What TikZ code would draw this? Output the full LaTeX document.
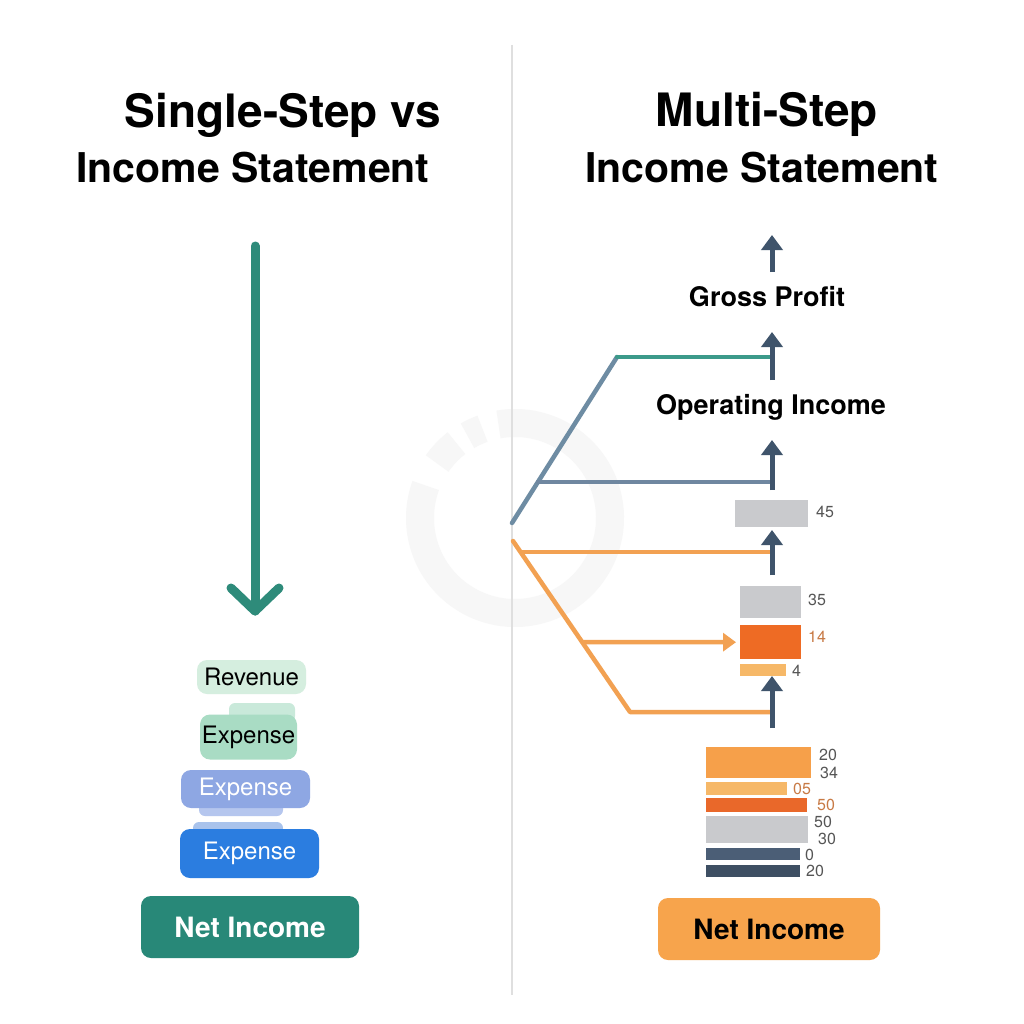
\documentclass[tikz,border=0pt]{standalone}
\usepackage{fontspec}
\setmainfont{TeX Gyre Heros}
\usetikzlibrary{arrows.meta}
\definecolor{tealA}{HTML}{2E8B7A}
\definecolor{revF}{HTML}{D5EEDF}
\definecolor{expAF}{HTML}{A9DCC4}
\definecolor{expAS}{HTML}{C9E9DA}
\definecolor{expBF}{HTML}{8EA7E3}
\definecolor{expBS}{HTML}{B5C6EE}
\definecolor{expCF}{HTML}{2B7DE0}
\definecolor{expCS}{HTML}{A9C3EC}
\definecolor{netL}{HTML}{288878}
\definecolor{netR}{HTML}{F7A44C}
\definecolor{slateA}{HTML}{3F546B}
\definecolor{tealL}{HTML}{3C9A8A}
\definecolor{slateD}{HTML}{6E8CA3}
\definecolor{slateH}{HTML}{6F87A0}
\definecolor{orL}{HTML}{F2A152}
\definecolor{grayB}{HTML}{C9CACD}
\definecolor{orB}{HTML}{EE6B24}
\definecolor{orLt}{HTML}{F6B868}
\definecolor{orM}{HTML}{F6A04A}
\definecolor{orD}{HTML}{E9682A}
\definecolor{slB1}{HTML}{4B5E76}
\definecolor{slB2}{HTML}{3E4F63}
\definecolor{numG}{HTML}{555555}
\definecolor{numO}{HTML}{C87A45}
\definecolor{wm}{HTML}{F7F7F7}
\tikzset{
  title/.style={font=\fontsize{41}{49}\selectfont\bfseries, text=black, inner sep=0pt},
  bigtitle/.style={font=\fontsize{46}{54}\selectfont\bfseries, text=black, inner sep=0pt},
  lbl/.style={font=\fontsize{27}{32}\selectfont\bfseries, text=black, inner sep=0pt},
  pill/.style={rounded corners=10pt, minimum height=#1, inner sep=0pt, font=\fontsize{24}{29}\selectfont},
  netbox/.style={rounded corners=10pt, inner sep=0pt, font=\fontsize{28}{33}\selectfont\bfseries},
  bar/.style={inner sep=0pt, anchor=north west},
  num/.style={font=\fontsize{16}{19}\selectfont, text=numG, inner sep=0pt, anchor=west},
  onum/.style={num, text=numO},
  uparrow/.style={draw=slateA, line width=5pt, -{Triangle[width=21pt,length=15pt]}},
  conn/.style={line width=4.5pt, line cap=round, line join=round},
}
\begin{document}
\begin{tikzpicture}[x=1pt,y=-1pt]
\useasboundingbox (0,0) rectangle (1024,1024);
\fill[white] (0,0) rectangle (1024,1024);
% watermark ring (y axis points down, so angles are negated)
\draw[wm, line width=28pt] (515,518) ++(-100:95) arc[start angle=-100, end angle=200, radius=95];
\draw[wm, line width=28pt] (515,518) ++(-110:95) arc[start angle=-110, end angle=-120, radius=95];
\draw[wm, line width=28pt] (515,518) ++(-128:95) arc[start angle=-128, end angle=-145, radius=95];
% divider
\coordinate (dtop) at (512,45);
\coordinate (dbot) at (512,995);
\draw[gray!25, line width=1.5pt] (dtop) -- (dbot);
% titles
\node[bigtitle] (t1a) at (283,115) {Single-Step vs};
\node[title] (t1b) at (253,168) {Income Statement};
\node[bigtitle] (t2a) at (767,114) {Multi-Step};
\node[title] (t2b) at (762,168) {Income Statement};
% left arrow
\coordinate (la1) at (255,246);
\coordinate (la2) at (255,611);
\draw[tealA, line width=9pt, line cap=round] (la1) -- (la2);
\draw[tealA, line width=9pt, line cap=round, line join=round] (231,588) -- (la2) -- (279,588);
% left stack
\fill[expAS, rounded corners=6pt] (229,703) rectangle (295,722);
\fill[expBS, rounded corners=6pt] (199,800) rectangle (283,816);
\fill[expCS, rounded corners=6pt] (193,822) rectangle (283,834);
\node[pill=34pt, fill=revF, minimum width=109pt] (rev) at (251.5,677) {Revenue};
\node[pill=45pt, fill=expAF, minimum width=97pt] (exp1) at (248.5,737) {Expense};
\node[pill=38pt, fill=expBF, minimum width=129pt, text=white] (exp2) at (245.5,789) {Expense};
\node[pill=49pt, fill=expCF, minimum width=139pt, text=white] (exp3) at (249.5,853.5) {Expense};
\node[netbox, fill=netL, text=white, minimum width=218pt, minimum height=62pt] (netl) at (250,927) {Net Income};
% right labels
\node[lbl] (gp) at (767,297) {Gross Profit};
\node[lbl] (oi) at (771,407) {Operating Income};
% bars
\node[bar, fill=grayB, minimum width=73pt, minimum height=27pt] (b45) at (735,500) {};
\node[num] at (816,512) {45};
\node[bar, fill=grayB, minimum width=61pt, minimum height=32pt] (b35) at (740,586) {};
\node[num] at (808,600) {35};
\node[bar, fill=orB, minimum width=61pt, minimum height=34pt] (b14) at (740,625) {};
\node[onum] at (808,637) {14};
\node[bar, fill=orLt, minimum width=46pt, minimum height=12pt] (b4) at (740,664) {};
\node[num] at (792,671) {4};
% bottom bars
\node[bar, fill=orM, minimum width=105pt, minimum height=31pt] (c1) at (706,747) {};
\node[num] at (819,755) {20};
\node[num] at (820,773) {34};
\node[bar, fill=orLt, minimum width=81pt, minimum height=13pt] (c2) at (706,782) {};
\node[onum] at (793,789) {05};
\node[bar, fill=orD, minimum width=101pt, minimum height=14pt] (c3) at (706,798) {};
\node[onum] at (817,805) {50};
\node[bar, fill=grayB, minimum width=102pt, minimum height=27pt] (c4) at (706,816) {};
\node[num] at (814,822) {50};
\node[num] at (818,839) {30};
\node[bar, fill=slB1, minimum width=94pt, minimum height=12pt] (c5) at (706,848) {};
\node[num] at (805,855) {0};
\node[bar, fill=slB2, minimum width=94pt, minimum height=12pt] (c6) at (706,865) {};
\node[num] at (806,871) {20};
\node[netbox, fill=netR, text=black, minimum width=222pt, minimum height=62pt] (netr) at (769,929) {Net Income};
% connector lines
\coordinate (o1) at (512,523);
\coordinate (k1) at (617,357);
\coordinate (e1) at (772,357);
\coordinate (s0) at (538,482);
\coordinate (e2) at (772,482);
\coordinate (o2) at (513,541);
\coordinate (s1) at (521,552);
\coordinate (e3) at (772,552);
\coordinate (s2) at (583,642);
\coordinate (e4) at (b14.west);
\coordinate (k2) at (630,712);
\coordinate (e5) at (772,712);
\draw[conn, slateD] (o1) -- (k1);
\draw[conn, tealL] (k1) -- (e1);
\draw[conn, slateH] (s0) -- (e2);
\draw[conn, orL] (o2) -- (k2) -- (e5);
\draw[conn, orL] (s1) -- (e3);
\draw[line width=4.5pt, orL, -{Triangle[width=18pt,length=13pt]}] (s2) -- ([xshift=-4pt]e4);
% up arrows
\draw[uparrow] (772,272) -- (772,235);
\draw[uparrow] (772,380) -- (772,332);
\draw[uparrow] (772,490) -- (772,440);
\draw[uparrow] (772,575) -- (772,530);
\draw[uparrow] (772,728) -- (772,676);
\end{tikzpicture}
\end{document}
